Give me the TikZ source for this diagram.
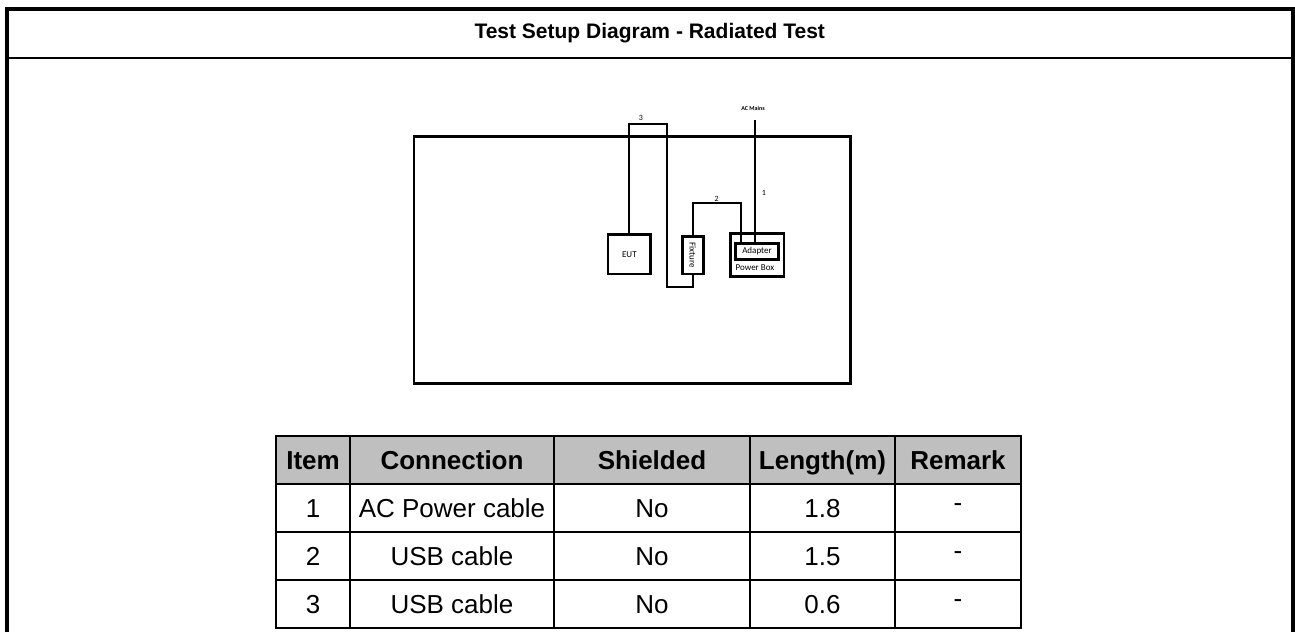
\documentclass[tikz,border=0pt]{standalone}
\usepackage{fontspec}
\setmainfont{Liberation Sans}
\newfontfamily\calfont{Carlito}
\begin{document}
\begin{tikzpicture}[x=1pt,y=-1pt,
  frame/.style={line width=4pt},
  sep/.style={line width=2pt},
  title/.style={font=\fontsize{21}{25}\selectfont\bfseries},
  bench/.style={draw,line width=2.7pt,inner sep=0pt},
  unit/.style={draw,line width=2.5pt,inner sep=0pt,font=\calfont\fontsize{9}{10}\selectfont},
  cable/.style={line width=2pt},
  clabel/.style={font=\calfont\fontsize{8}{9}\selectfont,inner sep=0pt},
  basecell/.style={draw,line width=2.6pt,minimum height=48pt,inner sep=0pt,font=\fontsize{26}{29}\selectfont},
  cell/.style={basecell,text height=18.6pt,text depth=0pt},
  dcell/.style={basecell},
  head/.style={cell,fill=black!25,font=\fontsize{26}{29}\selectfont\bfseries},
  c1/.style={minimum width=74pt},
  c2/.style={minimum width=204pt},
  c3/.style={minimum width=196pt},
  c4/.style={minimum width=145pt},
  c5/.style={minimum width=126pt}]
\useasboundingbox (0,0) rectangle (1295,632);
% outer frame
\draw[frame] (7,632) -- (7,9) -- (1292.5,9) -- (1292.5,632);
\draw[sep] (7,58.3) -- (1292.5,58.3);
\node[title] (ttl) at (649.75,33.5) {Test Setup Diagram - Radiated Test};
% setup drawing
\node[bench,minimum width=436.7pt,minimum height=246.6pt] (bench) at (632.35,260) {};
\node[unit,minimum width=42.7pt,minimum height=39.7pt] (eut) at (629.35,254.15) {EUT};
\node[unit,minimum width=21pt,minimum height=37.7pt] (fix) at (692.8,255.15) {};
\node[font=\calfont\fontsize{9}{10}\selectfont,rotate=-90,inner sep=0pt] (fixlbl) at (fix.center) {Fixture};
\node[unit,minimum width=53.3pt,minimum height=43.4pt] (pbox) at (757.35,255) {};
\node[unit,line width=3pt,minimum width=42.6pt,minimum height=16.4pt] (adp) at (757,251.5) {Adapter};
\node[font=\calfont\fontsize{9}{10}\selectfont,inner sep=0pt,anchor=west] (pblbl) at (735.5,268) {Power Box};
\node[font=\calfont\fontsize{6}{7}\selectfont\bfseries,inner sep=0pt] (acm) at (753,108.5) {AC Mains};
\coordinate (acTop) at (754.7,120);
\coordinate (c2) at (741.3,203.3);
\coordinate (c3a) at (667.3,124.3);
\coordinate (c3b) at (667.3,287);
\draw[cable] (acTop) -- (acTop |- adp.north);
\draw[cable] (fix.north) |- (c2) -- (c2 |- adp.north);
\draw[cable] (eut.north) |- (c3a) -- (c3b) -| (fix.south);
\node[clabel] (l1) at (764,193) {1};
\node[clabel] (l2) at (716.7,199) {2};
\node[clabel] (l3) at (641,117.5) {3};
% table
\node[head,c1] (h1) at (313,460) {Item};
\node[head,c2] (h2) at (452,460) {Connection};
\node[head,c3] (h3) at (652,460) {Shielded};
\node[head,c4] (h4) at (822.5,460) {Length(m)};
\node[head,c5] (h5) at (958,460) {Remark};
\node[cell,c1] (r11) at (313,508) {1};
\node[cell,c2] (r12) at (452,508) {AC Power cable};
\node[cell,c3] (r13) at (652,508) {No};
\node[cell,c4] (r14) at (822.5,508) {1.8};
\node[dcell,c5] (r15) at (958,508) {-};
\node[cell,c1] (r21) at (313,556) {2};
\node[cell,c2] (r22) at (452,556) {USB cable};
\node[cell,c3] (r23) at (652,556) {No};
\node[cell,c4] (r24) at (822.5,556) {1.5};
\node[dcell,c5] (r25) at (958,556) {-};
\node[cell,c1] (r31) at (313,604) {3};
\node[cell,c2] (r32) at (452,604) {USB cable};
\node[cell,c3] (r33) at (652,604) {No};
\node[cell,c4] (r34) at (822.5,604) {0.6};
\node[dcell,c5] (r35) at (958,604) {-};
\end{tikzpicture}
\end{document}
